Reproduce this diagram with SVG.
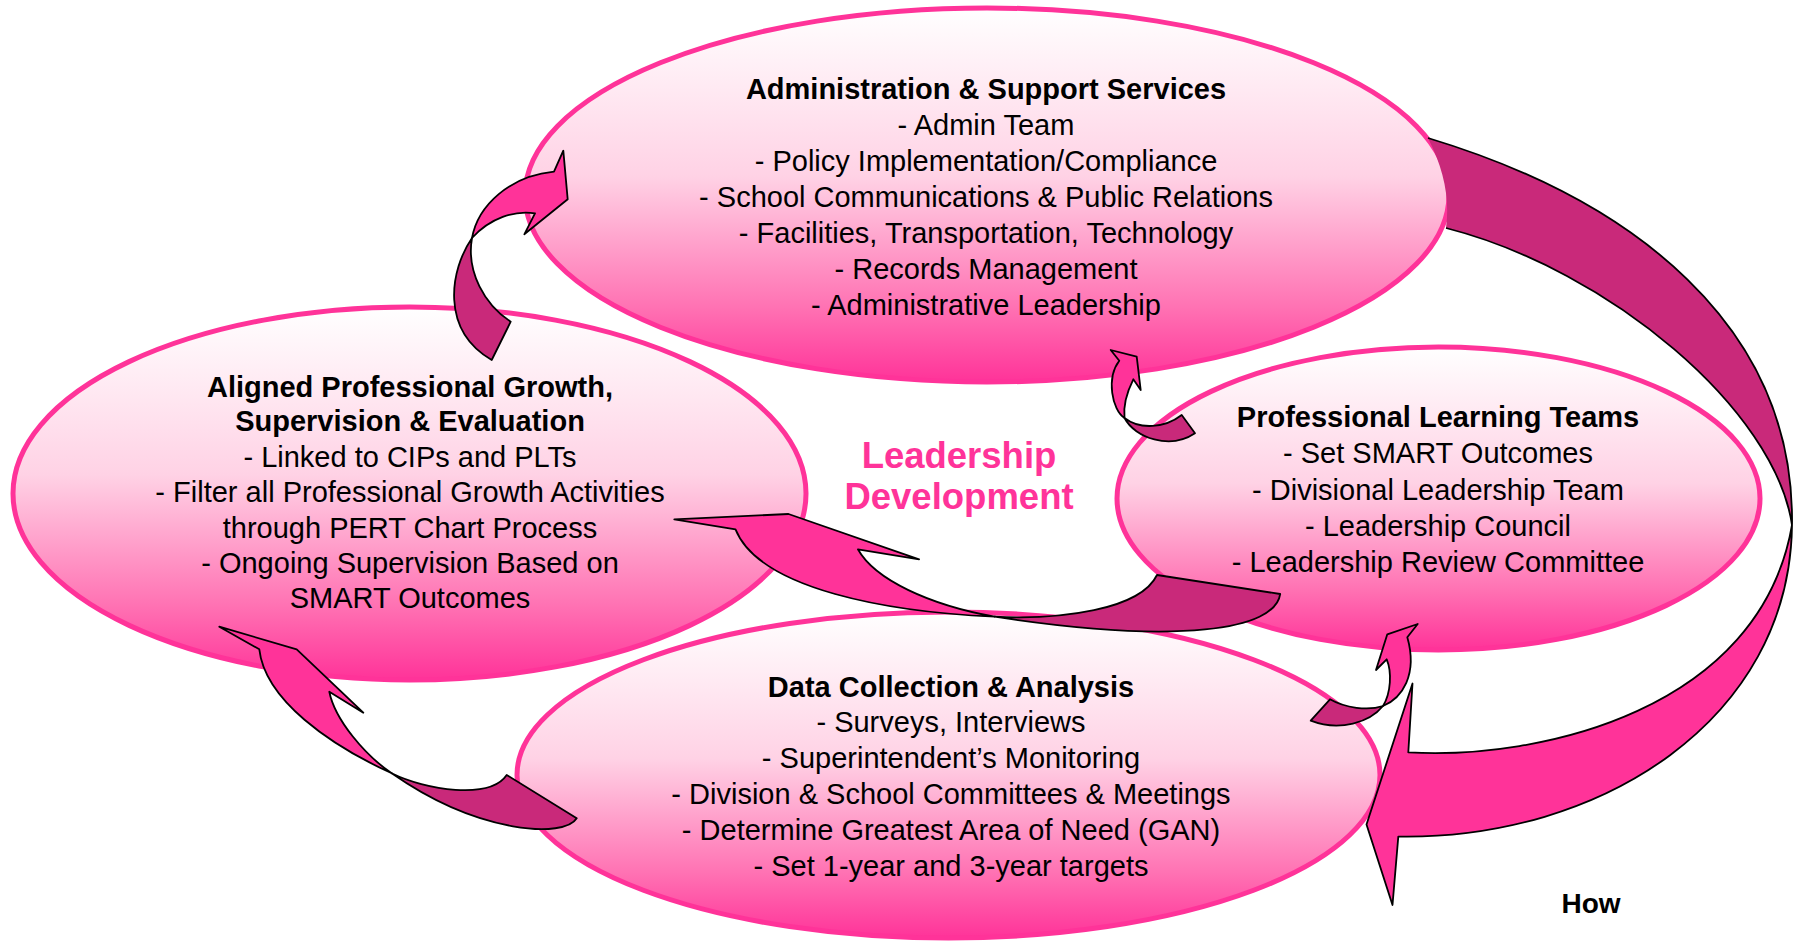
<svg xmlns="http://www.w3.org/2000/svg" width="1801" height="943" viewBox="0 0 1801 943">
<style>
.ell{stroke:#ff3399;stroke-width:5;fill:url(#pg)}
.t{font-family:"Liberation Sans",Arial,sans-serif;font-size:29px;fill:#000;text-anchor:middle}
.b{font-weight:bold}
.ld{font-family:"Liberation Sans",Arial,sans-serif;font-size:36.5px;font-weight:bold;fill:#ff3399;text-anchor:middle}
.br{fill:#ff3399;stroke:#000;stroke-width:1.8;stroke-linejoin:round}
.dk{fill:#c9297a;stroke:#000;stroke-width:1.8;stroke-linejoin:round}
.nf{stroke:none}
.ol{fill:none;stroke:#000;stroke-width:1.8;stroke-linejoin:round}
</style>
<defs>
<linearGradient id="pg" x1="0" y1="0" x2="0" y2="1">
<stop offset="0" stop-color="#ffffff"/>
<stop offset="0.45" stop-color="#ffd2e5"/>
<stop offset="0.8" stop-color="#ff72b3"/>
<stop offset="1" stop-color="#ff3399"/>
</linearGradient>
</defs>
<rect width="1801" height="943" fill="#fff"/>

<g id="node-data">
<ellipse class="ell" cx="948.5" cy="775" rx="431.5" ry="163"/>
<text class="t b" x="951" y="697">Data Collection &amp; Analysis</text>
<text class="t" x="951" y="732">- Surveys, Interviews</text>
<text class="t" x="951" y="768">- Superintendent’s Monitoring</text>
<text class="t" x="951" y="804">- Division &amp; School Committees &amp; Meetings</text>
<text class="t" x="951" y="840">- Determine Greatest Area of Need (GAN)</text>
<text class="t" x="951" y="876">- Set 1-year and 3-year targets</text>
</g>

<g id="node-plt">
<ellipse class="ell" cx="1438.5" cy="498.5" rx="321.5" ry="151.5"/>
<text class="t b" x="1438" y="427">Professional Learning Teams</text>
<text class="t" x="1438" y="463">- Set SMART Outcomes</text>
<text class="t" x="1438" y="500">- Divisional Leadership Team</text>
<text class="t" x="1438" y="536">- Leadership Council</text>
<text class="t" x="1438" y="572">- Leadership Review Committee</text>
</g>

<g id="node-aligned">
<ellipse class="ell" cx="409.5" cy="493.5" rx="396.5" ry="186.5"/>
<text class="t b" x="410" y="397">Aligned Professional Growth,</text>
<text class="t b" x="410" y="431">Supervision &amp; Evaluation</text>
<text class="t" x="410" y="467">- Linked to CIPs and PLTs</text>
<text class="t" x="410" y="502">- Filter all Professional Growth Activities</text>
<text class="t" x="410" y="538">through PERT Chart Process</text>
<text class="t" x="410" y="573">- Ongoing Supervision Based on</text>
<text class="t" x="410" y="608">SMART Outcomes</text>
</g>

<g id="node-admin">
<ellipse class="ell" cx="987" cy="195" rx="462" ry="187"/>
<text class="t b" x="986" y="99">Administration &amp; Support Services</text>
<text class="t" x="986" y="135">- Admin Team</text>
<text class="t" x="986" y="171">- Policy Implementation/Compliance</text>
<text class="t" x="986" y="207">- School Communications &amp; Public Relations</text>
<text class="t" x="986" y="243">- Facilities, Transportation, Technology</text>
<text class="t" x="986" y="279">- Records Management</text>
<text class="t" x="986" y="315">- Administrative Leadership</text>
</g>

<g id="center-label">
<text class="ld" x="959" y="468">Leadership</text>
<text class="ld" x="959" y="509">Development</text>
</g>

<g id="connectors">
<!-- C: big outer arrow Admin -> Data -->
<path class="dk nf" d="M 1428,138 C 1631.7,199.4 1795,325 1792,525 C 1775,410 1610,270 1446,228 Q 1452,185 1428,138 Z"/>
<path class="br nf" d="M 1792,525 C 1790,720 1600,840 1398.3,836.6 L 1392.5,905 L 1366.5,824.5 L 1412.5,683.5 L 1408.3,752.4 C 1540,760 1760,710 1792,525 Z"/>
<path class="ol" d="M 1428,138 C 1631.7,199.4 1795,325 1792,525 C 1790,720 1600,840 1398.3,836.6 L 1392.5,905 L 1366.5,824.5 L 1412.5,683.5 L 1408.3,752.4 C 1540,760 1760,710 1792,525 C 1775,410 1610,270 1446,228"/>

<!-- A: Aligned -> Admin -->
<path class="dk" d="M 472,238 C 450,270 440,330 491.7,360 L 510.7,321.7 C 485,305 466,272 472,238 Z"/>
<path class="br" d="M 554,171.7 L 563.3,150.7 L 567.7,199.3 L 524.3,234.3 L 535,213.3 C 515,210 490,218 472,238 C 478,205 510,176 554,171.7 Z"/>

<!-- B: PLT -> Admin -->
<path class="dk" d="M 1124.5,418 C 1135,438 1170,450 1195,433.3 L 1181.7,415 C 1165,428 1140,430 1124.5,418 Z"/>
<path class="br" d="M 1119.3,360.7 L 1110.7,350 L 1136.7,356.7 L 1140.7,390 L 1133.3,379.3 C 1128,390 1123,405 1124.5,418 C 1112,410 1106,378 1119.3,360.7 Z"/>

<!-- D: PLT -> Aligned -->
<path class="dk" d="M 994.6,616.7 C 1060,620 1140,610 1157,575 L 1280.2,594 C 1275,630 1180,645 994.6,616.7 Z"/>
<path class="br" d="M 735.5,529.3 L 674.3,519.3 L 788.5,514 L 919.1,559.3 L 857.9,549.3 C 875,580 930,605 994.6,616.7 C 890,612 760,590 735.5,529.3 Z"/>

<!-- E: Data -> Aligned -->
<path class="dk" d="M 391.7,773.3 C 425,790 490,800 506.7,775 L 576.7,818.3 C 565,838 480,835 391.7,773.3 Z"/>
<path class="br" d="M 259.3,649.3 L 219.3,626.7 L 296.7,649.3 L 363.3,712.7 L 329.3,691.7 C 335,720 365,755 391.7,773.3 C 330,745 265,700 259.3,649.3 Z"/>

<!-- F: Data -> PLT -->
<path class="dk" d="M 1330,699.3 C 1345,708 1368,711 1383,706 C 1370,722 1340,732 1310.7,720.7 Z"/>
<path class="br" d="M 1407.3,637.3 L 1417.7,624 L 1387.3,634.3 L 1376,670 L 1386.7,659.3 C 1392,672 1391,693 1383,706 C 1402,698 1418,675 1407.3,637.3 Z"/>
</g>

<text class="t b" x="1591" y="913" style="font-size:28px">How</text>
</svg>
